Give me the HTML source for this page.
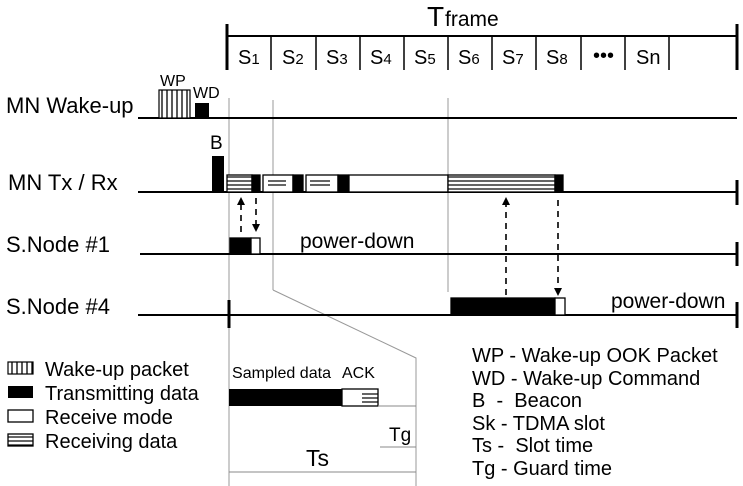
<!DOCTYPE html>
<html><head><style>body{margin:0;background:#fff}svg{display:block}text{font-family:"Liberation Sans",sans-serif;fill:#000}</style></head><body>
<svg width="743" height="486" viewBox="0 0 743 486" xmlns="http://www.w3.org/2000/svg">
<defs>
<pattern id="hl" width="4" height="4" patternUnits="userSpaceOnUse"><rect width="4" height="4" fill="#fff"/><line x1="0" y1="1" x2="4" y2="1" stroke="#000" stroke-width="1.2"/></pattern>
<pattern id="vl" width="5" height="4" patternUnits="userSpaceOnUse"><rect width="5" height="4" fill="#fff"/><line x1="2" y1="0" x2="2" y2="4" stroke="#000" stroke-width="1.3"/></pattern>
</defs>
<g stroke="#999" stroke-width="1" fill="none">
<line x1="229" y1="98" x2="229" y2="486"/>
<line x1="273" y1="100" x2="273" y2="290"/>
<polyline points="273,290 416,358 416,486"/>
<line x1="448" y1="98" x2="448" y2="292"/>
</g>
<g stroke="#000" stroke-width="2">
<line x1="227" y1="36" x2="737" y2="36"/>
<line x1="227" y1="24" x2="227" y2="70" stroke-width="3"/>
<line x1="737" y1="24" x2="737" y2="70" stroke-width="3"/>
<line x1="138" y1="118" x2="737" y2="118"/>
<line x1="138" y1="192" x2="737" y2="192"/>
<line x1="737" y1="180" x2="737" y2="205" stroke-width="3"/>
<line x1="140" y1="254" x2="737" y2="254"/>
<line x1="737" y1="242" x2="737" y2="266" stroke-width="3"/>
<line x1="138" y1="315" x2="737" y2="315"/>
<line x1="229" y1="300" x2="229" y2="328" stroke-width="3"/>
<line x1="737" y1="302" x2="737" y2="328" stroke-width="3"/>
</g>
<g stroke="#000" stroke-width="1.5">
<line x1="271" y1="36" x2="271" y2="70"/><line x1="316" y1="36" x2="316" y2="70"/><line x1="360" y1="36" x2="360" y2="70"/><line x1="404" y1="36" x2="404" y2="70"/><line x1="448" y1="36" x2="448" y2="70"/><line x1="492" y1="36" x2="492" y2="70"/><line x1="536" y1="36" x2="536" y2="70"/><line x1="581" y1="36" x2="581" y2="70"/><line x1="625" y1="36" x2="625" y2="70"/><line x1="669" y1="36" x2="669" y2="70"/>
</g>
<text x="427" y="26" font-size="28">T</text><text x="445" y="26" font-size="21">frame</text>
<g font-size="20">
<text x="238" y="64">S<tspan font-size="15">1</tspan></text>
<text x="282" y="64">S<tspan font-size="15">2</tspan></text>
<text x="326" y="64">S<tspan font-size="15">3</tspan></text>
<text x="370" y="64">S<tspan font-size="15">4</tspan></text>
<text x="414" y="64">S<tspan font-size="15">5</tspan></text>
<text x="458" y="64">S<tspan font-size="15">6</tspan></text>
<text x="502" y="64">S<tspan font-size="15">7</tspan></text>
<text x="546" y="64">S<tspan font-size="15">8</tspan></text>
<text x="593" y="62">•••</text>
<text x="636" y="64">Sn</text>
</g>
<g font-size="22">
<text x="6" y="113">MN Wake-up</text>
<text x="8" y="190">MN Tx / Rx</text>
<text x="6" y="252">S.Node #1</text>
<text x="6" y="314">S.Node #4</text>
</g>
<text x="160" y="86" font-size="16">WP</text><text x="193" y="98" font-size="16">WD</text>
<text x="210" y="149" font-size="19">B</text>
<rect x="159" y="90" width="31" height="28" fill="url(#vl)" stroke="#000" stroke-width="1.2"/>
<rect x="195" y="103" width="14" height="15" fill="#000"/>
<rect x="212" y="156" width="12" height="36" fill="#000"/>
<g stroke="#000" stroke-width="1.3">
<rect x="227" y="175" width="25" height="17" fill="url(#hl)"/>
<rect x="252" y="175" width="8" height="17" fill="#000"/>
<rect x="263" y="175" width="30" height="17" fill="#fff"/><rect x="268" y="179" width="18" height="9" fill="url(#hl)" stroke="none"/>
<rect x="293" y="175" width="10" height="17" fill="#000"/>
<rect x="306" y="175" width="32" height="17" fill="#fff"/><rect x="310" y="179" width="20" height="9" fill="url(#hl)" stroke="none"/>
<rect x="338" y="175" width="10" height="17" fill="#000"/>
<rect x="349" y="175" width="99" height="17" fill="#fff"/>
<rect x="448" y="175" width="107" height="17" fill="url(#hl)"/>
<rect x="555" y="175" width="8" height="17" fill="#000"/>
<rect x="230" y="238" width="21" height="16" fill="#000"/>
<rect x="251" y="238" width="9" height="16" fill="#fff"/>
<rect x="451" y="298" width="104" height="17" fill="#000"/>
<rect x="555" y="298" width="10" height="17" fill="#fff"/>
</g>
<g stroke="#000" stroke-width="1.6" stroke-dasharray="6,5" fill="none">
<line x1="241" y1="232" x2="241" y2="204"/>
<line x1="256" y1="198" x2="256" y2="226"/>
<line x1="506" y1="295" x2="506" y2="204"/>
<line x1="558" y1="200" x2="558" y2="289"/>
</g>
<g fill="#000">
<polygon points="241,197 237,205 245,205"/>
<polygon points="256,232 252,224 260,224"/>
<polygon points="506,197 502,205 510,205"/>
<polygon points="558,296 554,288 562,288"/>
</g>
<text x="300" y="248" font-size="21">power-down</text>
<text x="611" y="308" font-size="21">power-down</text>
<!-- legend -->
<rect x="8" y="362" width="25" height="12" fill="url(#vl)" stroke="#000" stroke-width="1.2"/>
<rect x="8" y="386" width="25" height="12" fill="#000"/>
<rect x="8" y="410" width="25" height="12" fill="#fff" stroke="#000" stroke-width="1.3"/>
<rect x="8" y="434" width="25" height="12" fill="url(#hl)" stroke="#000" stroke-width="1.3"/>
<g font-size="20">
<text x="45" y="376">Wake-up packet</text>
<text x="45" y="400">Transmitting data</text>
<text x="45" y="424">Receive mode</text>
<text x="45" y="448">Receiving data</text>
</g>
<text x="232" y="378" font-size="16" textLength="99" lengthAdjust="spacingAndGlyphs">Sampled data</text><text x="342" y="378" font-size="16">ACK</text>
<rect x="229" y="389" width="113" height="17" fill="#000"/>
<rect x="342" y="389" width="36" height="17" fill="#fff" stroke="#000" stroke-width="1.3"/>
<g stroke="#000" stroke-width="1.2"><line x1="362" y1="394" x2="378" y2="394"/><line x1="362" y1="398" x2="378" y2="398"/><line x1="362" y1="402" x2="378" y2="402"/></g>
<g stroke="#888" stroke-width="1"><line x1="378" y1="406" x2="416" y2="406"/><line x1="380" y1="447" x2="416" y2="447"/><line x1="229" y1="472" x2="416" y2="472"/></g>
<text x="389" y="441" font-size="19">Tg</text>
<text x="306" y="466" font-size="23">Ts</text>
<g font-size="20">
<text x="472" y="362">WP - Wake-up OOK Packet</text>
<text x="472" y="385">WD - Wake-up Command</text>
<text x="472" y="407">B&#160; -&#160; Beacon</text>
<text x="472" y="430">Sk - TDMA slot</text>
<text x="472" y="452">Ts -&#160; Slot time</text>
<text x="472" y="475">Tg - Guard time</text>
</g>
</svg>
</body></html>
